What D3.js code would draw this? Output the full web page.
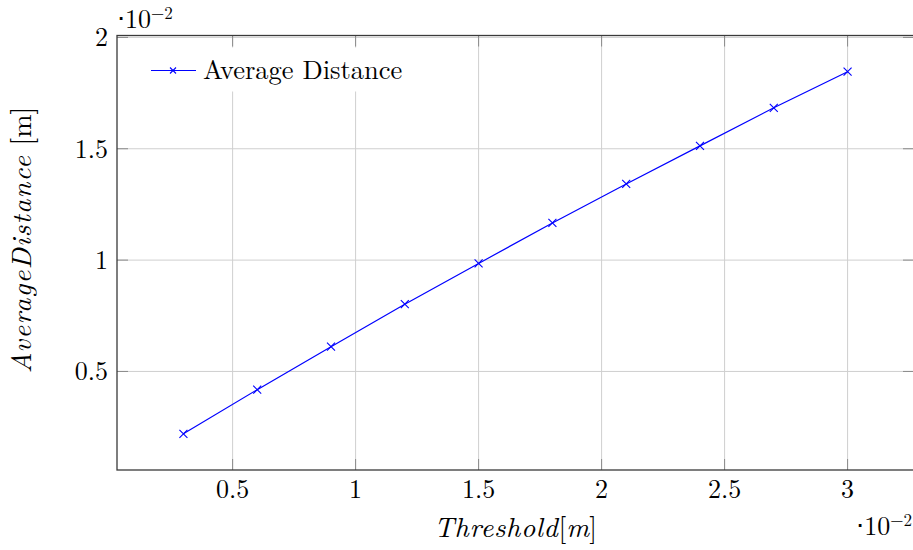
<!DOCTYPE html>
<html>
<head>
<meta charset="utf-8">
<script src="https://cdn.jsdelivr.net/npm/d3@7"></script>
<style>
  body { margin: 0; background: #fff; }
  svg { display: block; overflow: hidden; }
  text { font-family: "Latin Modern Roman", "Liberation Serif", serif; fill: #000; }
</style>
</head>
<body>
<div id="container"></div>
<script>
// values are shown in units of 10^-2 (the axes carry a "·10^-2" multiplier)
const thresholds = [0.3, 0.6, 0.9, 1.2, 1.5, 1.8, 2.1, 2.4, 2.7, 3.0];
const avgDistance = [0.22, 0.418, 0.611, 0.802, 0.985, 1.167, 1.342, 1.513, 1.684, 1.846];
const xTicks = [0.5, 1, 1.5, 2, 2.5, 3];
const yTicks = [0.5, 1, 1.5, 2];
const seriesName = "Average Distance";

const width = 913;
const height = 550;
const margin = {left: 117, top: 35.5, bottom: 80};
const plotRight = 914;           // right frame sits just outside the picture

// pgfplots style: enlarge limits by 10% of the data range
function enlarged(values) {
    const [lo, hi] = d3.extent(values);
    const pad = (hi - lo) * 0.1;
    return [lo - pad, hi + pad];
}

const x = d3.scaleLinear()
    .domain(enlarged(thresholds))
    .range([margin.left, plotRight]);
const y = d3.scaleLinear()
    .domain(enlarged(avgDistance))
    .range([height - margin.bottom, margin.top]);

const x0 = margin.left, x1 = plotRight;
const y0 = height - margin.bottom, y1 = margin.top;
const tickLen = 11;
const fmt = d => String(d);

const svg = d3.select("#container").append("svg")
    .attr("width", width)
    .attr("height", height)
    .attr("viewBox", [0, 0, width, height]);

// grid
svg.append("g").selectAll("line")
    .data(xTicks)
    .join("line")
    .attr("x1", d => x(d)).attr("x2", d => x(d))
    .attr("y1", y0).attr("y2", y1)
    .attr("stroke", "#cfcfcf").attr("stroke-width", 1);
svg.append("g").selectAll("line")
    .data(yTicks)
    .join("line")
    .attr("x1", x0).attr("x2", x1)
    .attr("y1", d => y(d)).attr("y2", d => y(d))
    .attr("stroke", "#cfcfcf").attr("stroke-width", 1);

// tick marks (inside, on all four sides)
const ticksG = svg.append("g").attr("stroke", "#8a8a8a").attr("stroke-width", 1);
xTicks.forEach(t => {
    ticksG.append("line").attr("x1", x(t)).attr("x2", x(t)).attr("y1", y0).attr("y2", y0 - tickLen);
    ticksG.append("line").attr("x1", x(t)).attr("x2", x(t)).attr("y1", y1).attr("y2", y1 + tickLen);
});
yTicks.forEach(t => {
    ticksG.append("line").attr("x1", x0).attr("x2", x0 + tickLen).attr("y1", y(t)).attr("y2", y(t));
    ticksG.append("line").attr("x1", x1).attr("x2", x1 - tickLen).attr("y1", y(t)).attr("y2", y(t));
});

// legend background (no border), hides the grid behind it
const legendG = svg.append("g").attr("transform", `translate(${x0 + 24},${y1 + 12})`);
legendG.append("rect")
    .attr("x", 0).attr("y", 0)
    .attr("width", 274).attr("height", 44)
    .attr("fill", "#fff");

// frame
svg.append("rect")
    .attr("x", x0).attr("y", y1)
    .attr("width", x1 - x0).attr("height", y0 - y1)
    .attr("fill", "none")
    .attr("stroke", "#3a3a3a")
    .attr("stroke-width", 1.3);

// series
const line = d3.line()
    .x((d, i) => x(thresholds[i]))
    .y(d => y(d));
svg.append("path")
    .datum(avgDistance)
    .attr("fill", "none")
    .attr("stroke", "#0000ff")
    .attr("stroke-width", 1.2)
    .attr("d", line);

function cross(g, cx, cy, r) {
    g.append("path")
        .attr("d", `M${cx - r},${cy - r}L${cx + r},${cy + r}M${cx - r},${cy + r}L${cx + r},${cy - r}`)
        .attr("stroke", "#0000ff")
        .attr("stroke-width", 1.1)
        .attr("fill", "none");
}
const markG = svg.append("g");
avgDistance.forEach((v, i) => cross(markG, x(thresholds[i]), y(v), 4));

// legend entry
legendG.append("line")
    .attr("x1", 10).attr("x2", 55)
    .attr("y1", 23).attr("y2", 23)
    .attr("stroke", "#0000ff").attr("stroke-width", 1.2);
cross(legendG, 32, 23, 3);
legendG.append("text")
    .attr("x", 62).attr("y", 31)
    .attr("font-size", 26.5)
    .text(seriesName);

// tick labels
svg.append("g").selectAll("text")
    .data(xTicks)
    .join("text")
    .attr("x", d => x(d))
    .attr("y", y0 + 28)
    .attr("text-anchor", "middle")
    .attr("font-size", 26)
    .text(fmt);
svg.append("g").selectAll("text")
    .data(yTicks)
    .join("text")
    .attr("x", x0 - 9)
    .attr("y", d => y(d) + 9)
    .attr("text-anchor", "end")
    .attr("font-size", 26)
    .text(fmt);

// multipliers
function multiplier(xp, yp, anchor) {
    const t = svg.append("text")
        .attr("x", xp).attr("y", yp)
        .attr("text-anchor", anchor)
        .attr("font-size", 26);
    t.append("tspan").text("\u22C510");
    t.append("tspan").attr("dy", -9).attr("font-size", 17).text("\u22122");
}
multiplier(x0, 28, "start");
multiplier(912, 535, "end");

// axis labels
const xl = svg.append("text")
    .attr("x", (x0 + x1) / 2)
    .attr("y", 537)
    .attr("text-anchor", "middle")
    .attr("font-size", 28);
xl.append("tspan").attr("font-style", "italic").attr("letter-spacing", 0.6).text("Threshold");
xl.append("tspan").text("[");
xl.append("tspan").attr("font-style", "italic").text("m");
xl.append("tspan").text("]");

const yl = svg.append("text")
    .attr("transform", `translate(31,240) rotate(-90)`)
    .attr("text-anchor", "middle")
    .attr("font-size", 28);
yl.append("tspan").attr("font-style", "italic").attr("letter-spacing", 1.2).text("AverageDistance");
yl.append("tspan").text(" [m]");
</script>
</body>
</html>
